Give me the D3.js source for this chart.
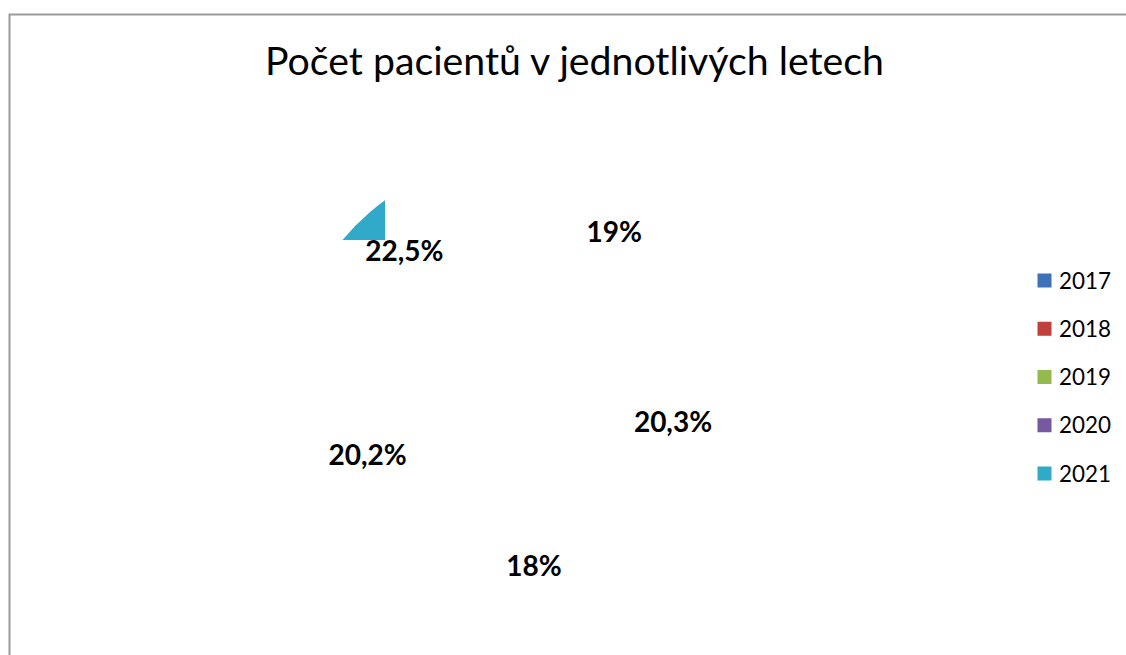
<!DOCTYPE html>
<html>
<head>
<meta charset="utf-8">
<script src="https://cdn.jsdelivr.net/npm/d3@7"></script>
<style>
  html, body { margin: 0; padding: 0; background: #fff; }
  svg { display: block; }
</style>
</head>
<body>
<svg id="chart" width="1126" height="655"></svg>
<script>
// ---- data ----
const title = "Počet pacientů v jednotlivých letech";
const years = ["2017", "2018", "2019", "2020", "2021"];
const shares = [19, 20.3, 18, 20.2, 22.5];
const shareLabels = ["19%", "20,3%", "18%", "20,2%", "22,5%"];
const colors = ["#3d72b8", "#c0403c", "#94b94c", "#7558a0", "#31a9c9"];

// ---- layout ----
const W = 1126, H = 655;
const cx = 514, cy = 381, R = 222;
const font = "Lato, 'Open Sans', sans-serif";

const svg = d3.select("#chart");

// chart area border (extends beyond the viewport on right/bottom)
svg.append("rect")
  .attr("x", 9.5).attr("y", 14.5)
  .attr("width", W + 50).attr("height", H + 50)
  .attr("fill", "#fff")
  .attr("stroke", "#9a9a9a").attr("stroke-width", 2);

// title
const t = svg.append("text")
  .attr("x", 574.5).attr("y", 75)
  .attr("text-anchor", "middle")
  .attr("font-family", font)
  .attr("font-size", 36)
  .attr("fill", "#000")
  .text(title);
{
  const target = 619;
  const w = t.node().getComputedTextLength();
  t.attr("font-size", 36 * target / w);
}

// pie
const pie = d3.pie().sort(null).value(d => d)(shares);
const arc = d3.arc().innerRadius(0).outerRadius(R);

const g = svg.append("g").attr("transform", `translate(${cx},${cy})`);

// only a clipped fragment of the last slice is visible in the reference
const defs = svg.append("defs");
defs.append("clipPath").attr("id", "frag")
  .append("rect")
  .attr("x", -R - 5).attr("y", -R - 5)
  .attr("width", (R + 5) - R * 0.581)
  .attr("height", (R + 5) - R * 0.635);

g.append("path")
  .datum(pie[4])
  .attr("d", arc)
  .attr("fill", colors[4])
  .attr("clip-path", "url(#frag)");

// data labels: "inside end" placement, label box's far corner at R - pad
const fs = 28, boxH = 28, fit = R - 16;
pie.forEach((p, i) => {
  const txt = g.append("text")
    .attr("text-anchor", "middle")
    .attr("font-family", font)
    .attr("font-weight", "bold")
    .attr("font-size", fs)
    .attr("fill", "#000")
    .text(shareLabels[i]);
  const w = txt.node().getComputedTextLength();
  const a = (p.startAngle + p.endAngle) / 2;
  const ux = Math.sin(a), uy = -Math.cos(a);
  const hx = Math.sign(ux) * w / 2, hy = Math.sign(uy) * boxH / 2;
  // solve |r*u + h| = fit
  const B = 2 * (ux * hx + uy * hy);
  const C = hx * hx + hy * hy - fit * fit;
  const r = (-B + Math.sqrt(B * B - 4 * C)) / 2;
  txt.attr("x", r * ux).attr("y", r * uy).attr("dy", "0.3em");
});

// legend
const lg = svg.append("g");
const step = 48.25;
years.forEach((yr, i) => {
  const yc = 280.5 + i * step;
  lg.append("rect")
    .attr("x", 1037.5).attr("y", yc - 7)
    .attr("width", 14).attr("height", 14)
    .attr("fill", colors[i]);
  const tx = lg.append("text")
    .attr("x", 1059).attr("y", yc)
    .attr("dy", "0.36em")
    .attr("font-family", font)
    .attr("font-size", 22)
    .attr("fill", "#000")
    .text(yr);
  const w = tx.node().getComputedTextLength();
  tx.attr("font-size", 22 * 52 / w);
});
</script>
</body>
</html>
